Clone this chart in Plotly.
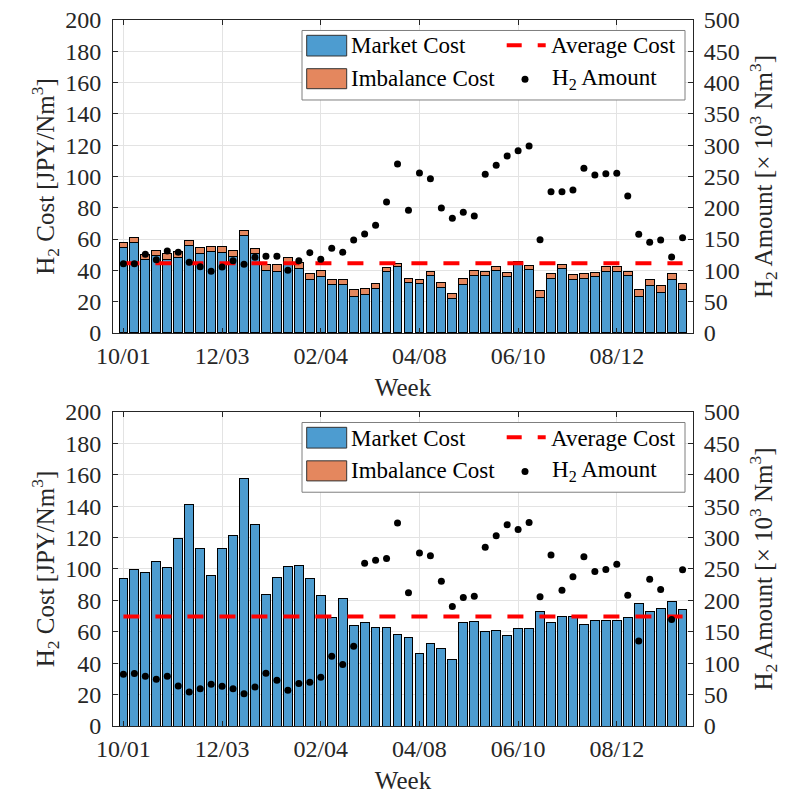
import plotly.graph_objects as go

# ---------------- data ----------------
weeks = list(range(52))
tick_vals = [0, 9, 18, 27, 36, 45]
tick_text = ["10/01", "12/03", "02/04", "04/08", "06/10", "08/12"]

top_market = [54.8, 58.0, 47.1, 49.2, 47.1, 48.1, 55.6, 50.9, 51.8, 51.3,
              48.8, 62.0, 50.5, 40.0, 39.4, 44.5, 41.3, 34.1, 36.4, 30.7,
              30.7, 23.4, 24.3, 28.3, 39.2, 42.6, 32.0, 31.7, 36.6, 29.2,
              22.1, 31.1, 36.8, 36.6, 39.8, 36.0, 44.5, 40.7, 22.8, 34.7,
              41.1, 34.3, 35.1, 35.8, 39.6, 39.2, 36.6, 23.2, 30.5, 25.8,
              34.1, 27.9]
top_imbalance = [2.9, 3.1, 3.2, 3.4, 3.4, 3.9, 3.8, 3.9, 3.2, 3.7,
                 3.6, 3.6, 3.6, 3.9, 4.1, 3.9, 3.9, 4.0, 3.6, 3.6,
                 3.6, 4.3, 4.0, 3.4, 2.8, 1.9, 2.6, 2.6, 2.6, 3.0,
                 3.2, 3.4, 3.2, 3.0, 2.6, 2.5, 1.1, 2.1, 4.2, 3.2,
                 2.8, 3.0, 3.0, 3.0, 2.8, 3.0, 3.0, 4.5, 3.8, 4.4,
                 4.0, 4.0]
top_amount = [110.7, 110.7, 125.7, 117.1, 131.0, 128.9, 112.9, 105.9, 98.5, 105.4,
              115.5, 109.7, 120.9, 122.5, 122.5, 100.2, 115.5, 128.3, 117.7, 135.3,
              128.9, 148.6, 158.1, 172.0, 209.3, 270.0, 196.0, 255.6, 246.5, 199.7,
              183.2, 192.8, 186.9, 253.5, 267.9, 282.7, 291.2, 298.7, 149.0, 225.7,
              225.7, 228.4, 263.1, 252.4, 254.5, 255.1, 218.8, 157.7, 144.9, 148.6,
              121.4, 152.2]
top_average = 44.5

bot_market = [93.7, 99.7, 98.0, 104.6, 100.7, 119.4, 141.3, 112.8, 96.1, 112.8,
              121.6, 157.7, 128.1, 83.9, 94.8, 101.8, 102.4, 93.9, 82.9, 68.9,
              81.0, 64.2, 66.1, 62.5, 62.5, 58.1, 56.1, 46.3, 52.7, 49.1,
              42.5, 66.1, 66.5, 60.1, 61.0, 57.8, 62.0, 62.0, 72.9, 66.1,
              69.9, 69.9, 64.8, 66.9, 66.9, 66.9, 69.1, 78.0, 73.1, 75.0,
              79.1, 74.2]
bot_imbalance = [0.0, 0.0, 0.0, 0.0, 0.0, 0.0, 0.0, 0.0, 0.0, 0.0,
                 0.0, 0.0, 0.0, 0.0, 0.0, 0.0, 0.0, 0.0, 0.0, 0.0,
                 0.0, 0.0, 0.0, 0.0, 0.0, 0.0, 0.0, 0.0, 0.0, 0.0,
                 0.0, 0.0, 0.0, 0.0, 0.0, 0.0, 0.0, 0.0, 0.0, 0.0,
                 0.0, 0.0, 0.0, 0.0, 0.0, 0.0, 0.0, 0.0, 0.0, 0.0,
                 0.0, 0.0]
bot_amount = [82.3, 83.4, 79.2, 74.4, 79.2, 63.8, 54.2, 59.5, 66.4, 63.2,
              59.5, 51.5, 62.2, 83.9, 72.8, 56.9, 67.5, 69.6, 77.6, 111.1,
              97.8, 127.0, 259.3, 264.1, 266.7, 323.1, 212.3, 275.3, 271.0, 230.6,
              190.2, 204.5, 206.7, 284.8, 302.8, 320.4, 312.9, 324.1, 205.6, 272.1,
              216.3, 237.5, 269.4, 245.9, 249.1, 257.7, 208.3, 135.5, 233.8, 217.3,
              169.4, 248.6]
bot_average = 69.8

# ---------------- style ----------------
FONT = "Liberation Serif"
AX = "#262626"
GRID = "#E3E3E3"
BLUE = "rgb(77,156,208)"
ORANGE = "rgb(228,135,94)"

fig = go.Figure()

def add_panel(xa, ya, ya2, market, imb, amount, avg):
    fig.add_trace(go.Bar(x=weeks, y=market, width=0.8, xaxis=xa, yaxis=ya,
                         marker=dict(color=BLUE, line=dict(color="black", width=1)),
                         showlegend=False))
    fig.add_trace(go.Bar(x=weeks, y=imb, width=0.8, xaxis=xa, yaxis=ya,
                         marker=dict(color=ORANGE, line=dict(color="black", width=1)),
                         showlegend=False))
    fig.add_trace(go.Scatter(x=[weeks[0], weeks[-1]], y=[avg, avg], mode="lines",
                             xaxis=xa, yaxis=ya,
                             line=dict(color="#FF0000", width=4, dash="16px,16px"),
                             showlegend=False))
    fig.add_trace(go.Scatter(x=weeks, y=amount, mode="markers", xaxis=xa, yaxis=ya2,
                             marker=dict(color="black", size=7),
                             showlegend=False))

add_panel("x", "y", "y2", top_market, top_imbalance, top_amount, top_average)
add_panel("x2", "y3", "y4", bot_market, bot_imbalance, bot_amount, bot_average)

tickfont = dict(family=FONT, size=24, color=AX)
titlefont = dict(family=FONT, size=25, color=AX)

def xaxis_cfg(anchor):
    return dict(domain=[0, 1], anchor=anchor, range=[-0.95, 51.95], automargin=False,
                tickvals=tick_vals, ticktext=tick_text, ticks="inside", ticklen=5,
                tickcolor=AX, showline=True, linecolor=AX, linewidth=1, mirror="ticks",
                showgrid=True, gridcolor=GRID, zeroline=False, tickfont=tickfont,
                ticklabelstandoff=1,
                title=dict(text="Week", font=titlefont, standoff=10))

def yaxis_cfg(dom, anchor):
    return dict(domain=dom, anchor=anchor, range=[0, 200], dtick=20, ticks="inside",
                automargin=False,
                ticklen=5, tickcolor=AX, showline=True, linecolor=AX, linewidth=1,
                showgrid=True, gridcolor=GRID, zeroline=False, tickfont=tickfont,
                ticklabelstandoff=6,
                title=dict(text="H<sub>2</sub> Cost [JPY/Nm<sup>3</sup>]", font=titlefont,
                           standoff=3))

def yaxis2_cfg(over, anchor):
    return dict(overlaying=over, anchor=anchor, side="right", range=[0, 500], dtick=50,
                automargin=False,
                ticks="inside", ticklen=5, tickcolor=AX, showline=True, linecolor=AX,
                linewidth=1, showgrid=False, zeroline=False, tickfont=tickfont,
                ticklabelstandoff=5,
                title=dict(text="H<sub>2</sub> Amount [\u00d7 10<sup>3</sup> Nm<sup>3</sup>]",
                           font=titlefont, standoff=15))

top_dom = [0.5567, 1.0]
bot_dom = [0.0, 0.4448]

fig.update_layout(
    width=795, height=796,
    margin=dict(l=113, r=102, t=20, b=70, autoexpand=False),
    paper_bgcolor="white", plot_bgcolor="white",
    barmode="stack", bargap=0.2,
    font=dict(family=FONT, color=AX),
    showlegend=False,
    xaxis=xaxis_cfg("y"),
    xaxis2=xaxis_cfg("y3"),
    yaxis=yaxis_cfg(top_dom, "x"),
    yaxis2=yaxis2_cfg("y", "x"),
    yaxis3=yaxis_cfg(bot_dom, "x2"),
    yaxis4=yaxis2_cfg("y3", "x2"),
)

# ---------------- manual legends ----------------
def fx(px):
    return (px - 113) / 580.0

def fy(py):
    return (333 - py) / 313.0

shapes = []
annotations = []
for xr, yr in [("x domain", "y domain"), ("x2 domain", "y3 domain")]:
    shapes.append(dict(type="rect", xref=xr, yref=yr, x0=fx(302), x1=fx(685),
                       y0=fy(100), y1=fy(30.5), line=dict(color="#7F7F7F", width=1),
                       fillcolor="white", layer="above"))
    shapes.append(dict(type="rect", xref=xr, yref=yr, x0=fx(306.7), x1=fx(346.7),
                       y0=fy(56), y1=fy(35.3), line=dict(color="#333333", width=1),
                       fillcolor=BLUE, layer="above"))
    shapes.append(dict(type="rect", xref=xr, yref=yr, x0=fx(306.7), x1=fx(346.7),
                       y0=fy(88.7), y1=fy(68.7), line=dict(color="#333333", width=1),
                       fillcolor=ORANGE, layer="above"))
    shapes.append(dict(type="line", xref=xr, yref=yr, x0=fx(506.7), x1=fx(545.7),
                       y0=fy(45.3), y1=fy(45.3),
                       line=dict(color="#FF0000", width=4, dash="15px,16px"), layer="above"))
    shapes.append(dict(type="circle", xref=xr, yref=yr, xsizemode="pixel", ysizemode="pixel",
                       xanchor=fx(525), yanchor=fy(79.3), x0=-3.5, x1=3.5, y0=-3.5, y1=3.5,
                       fillcolor="black", line=dict(color="black", width=0), layer="above"))
    for txt, px, py in [("Market Cost", 348.5, 46), ("Imbalance Cost", 348.5, 78.7),
                        ("Average Cost", 548.5, 46), ("H<sub>2</sub> Amount", 550, 78.7)]:
        annotations.append(dict(text=txt, xref=xr, yref=yr, x=fx(px), y=fy(py),
                                xanchor="left", yanchor="middle", showarrow=False,
                                font=dict(family=FONT, size=23, color="black")))

fig.update_layout(shapes=shapes, annotations=annotations)

fig.write_html("out.html")
